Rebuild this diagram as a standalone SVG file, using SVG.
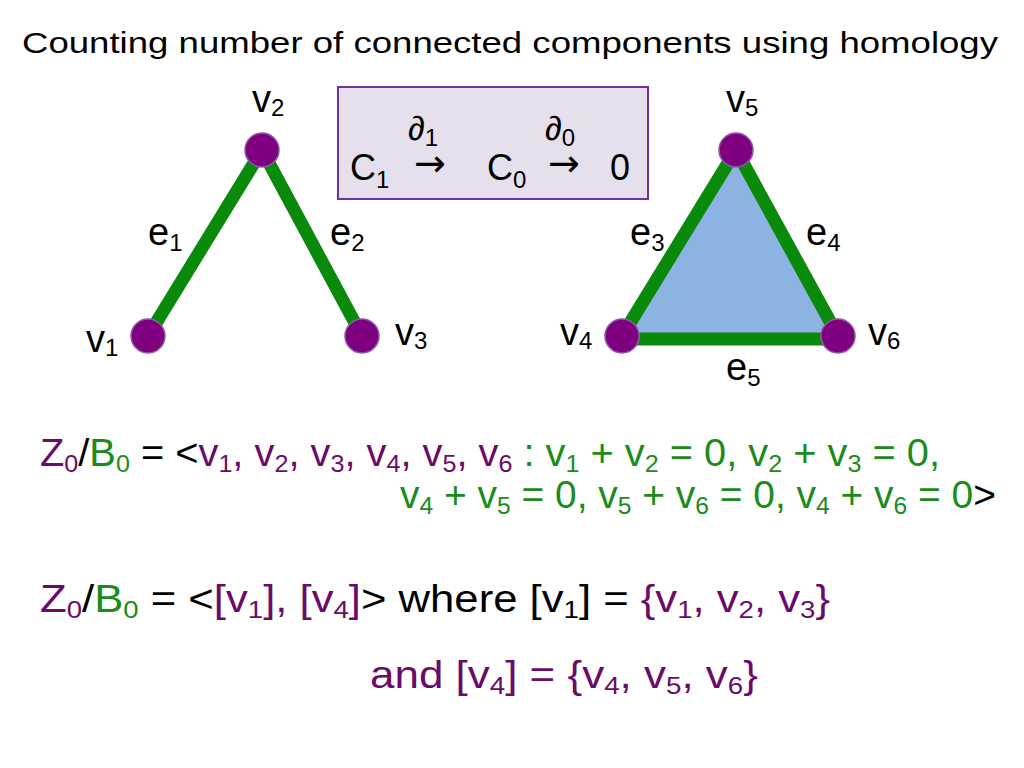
<svg xmlns="http://www.w3.org/2000/svg" width="1024" height="768" viewBox="0 0 1024 768">
<style>
text{font-family:"Liberation Sans",Arial,sans-serif;}
.p{fill:#6a0a6a}.g{fill:#1a8c1a}.k{fill:#000}
.node{fill:#7f007f;stroke:#8c5aa8;stroke-width:1.5}
.edge{stroke:#0a8a0a;stroke-width:13;stroke-linecap:round}
.lbl{font-size:38px;fill:#000}
.big{font-size:38px}
.arr{font-family:"DejaVu Sans",sans-serif;font-size:38px}
</style>
<rect width="1024" height="768" fill="#fff"/>
<text x="22" y="53" font-size="30" textLength="976" lengthAdjust="spacingAndGlyphs">Counting number of connected components using homology</text>
<g id="box" font-size="36">
<rect x="338" y="87" width="310" height="112" fill="#e6e0ec" stroke="#7030a0" stroke-width="2"/>
<text x="350" y="180">C<tspan font-size="24" dy="8">1</tspan></text>
<text class="arr" x="414" y="176">→</text>
<text x="487" y="180">C<tspan font-size="24" dy="8">0</tspan></text>
<text class="arr" x="548" y="176">→</text>
<text x="610" y="180">0</text>
<text x="408" y="140" font-size="34">∂<tspan font-size="24" dy="6">1</tspan></text>
<text x="545" y="140" font-size="34">∂<tspan font-size="24" dy="6">0</tspan></text>
</g>
<g id="triangle"><polygon points="736,150 622,336 838,336" fill="#8db3e2"/></g>
<g id="connectors">
<line class="edge" x1="262" y1="150" x2="148" y2="336"/>
<line class="edge" x1="262" y1="150" x2="362" y2="336"/>
<line class="edge" x1="736" y1="150" x2="622" y2="336"/>
<line class="edge" x1="736" y1="150" x2="838" y2="336"/>
<line class="edge" x1="622" y1="339" x2="838" y2="339"/>
</g>
<g id="v1"><circle class="node" cx="148" cy="336" r="17"/><text class="lbl" x="86" y="352">v<tspan font-size="24" dy="4">1</tspan></text></g>
<g id="v2"><circle class="node" cx="262" cy="150" r="17"/><text class="lbl" x="252" y="112">v<tspan font-size="24" dy="4">2</tspan></text></g>
<g id="v3"><circle class="node" cx="362" cy="336" r="17"/><text class="lbl" x="395" y="345">v<tspan font-size="24" dy="4">3</tspan></text></g>
<g id="v4"><circle class="node" cx="622" cy="336" r="17"/><text class="lbl" x="560" y="345">v<tspan font-size="24" dy="4">4</tspan></text></g>
<g id="v5"><circle class="node" cx="736" cy="150" r="17"/><text class="lbl" x="726" y="112">v<tspan font-size="24" dy="4">5</tspan></text></g>
<g id="v6"><circle class="node" cx="838" cy="336" r="17"/><text class="lbl" x="868" y="345">v<tspan font-size="24" dy="4">6</tspan></text></g>
<g id="elabels" font-size="38">
<text x="148" y="245">e<tspan font-size="24" dy="6">1</tspan></text>
<text x="330" y="245">e<tspan font-size="24" dy="6">2</tspan></text>
<text x="630" y="245">e<tspan font-size="24" dy="6">3</tspan></text>
<text x="806" y="245">e<tspan font-size="24" dy="6">4</tspan></text>
<text x="726" y="380">e<tspan font-size="24" dy="6">5</tspan></text>
</g>
<text class="big" x="40" y="466" textLength="900" lengthAdjust="spacingAndGlyphs"><tspan class="p">Z</tspan><tspan class="p" font-size="24" dy="6">0</tspan><tspan dy="-6">/</tspan><tspan class="g">B</tspan><tspan class="g" font-size="24" dy="6">0</tspan><tspan dy="-6"> = &lt;</tspan><tspan class="p">v</tspan><tspan class="p" font-size="24" dy="6">1</tspan><tspan class="p" dy="-6">, v</tspan><tspan class="p" font-size="24" dy="6">2</tspan><tspan class="p" dy="-6">, v</tspan><tspan class="p" font-size="24" dy="6">3</tspan><tspan class="p" dy="-6">, v</tspan><tspan class="p" font-size="24" dy="6">4</tspan><tspan class="p" dy="-6">, v</tspan><tspan class="p" font-size="24" dy="6">5</tspan><tspan class="p" dy="-6">, v</tspan><tspan class="p" font-size="24" dy="6">6</tspan><tspan class="g" dy="-6"> : v</tspan><tspan class="g" font-size="24" dy="6">1</tspan><tspan class="g" dy="-6"> + v</tspan><tspan class="g" font-size="24" dy="6">2</tspan><tspan class="g" dy="-6"> = 0, v</tspan><tspan class="g" font-size="24" dy="6">2</tspan><tspan class="g" dy="-6"> + v</tspan><tspan class="g" font-size="24" dy="6">3</tspan><tspan class="g" dy="-6"> = 0,</tspan></text>
<text class="big" x="400" y="508" textLength="596" lengthAdjust="spacingAndGlyphs"><tspan class="g">v</tspan><tspan class="g" font-size="24" dy="6">4</tspan><tspan class="g" dy="-6"> + v</tspan><tspan class="g" font-size="24" dy="6">5</tspan><tspan class="g" dy="-6"> = 0, v</tspan><tspan class="g" font-size="24" dy="6">5</tspan><tspan class="g" dy="-6"> + v</tspan><tspan class="g" font-size="24" dy="6">6</tspan><tspan class="g" dy="-6"> = 0, v</tspan><tspan class="g" font-size="24" dy="6">4</tspan><tspan class="g" dy="-6"> + v</tspan><tspan class="g" font-size="24" dy="6">6</tspan><tspan class="g" dy="-6"> = 0</tspan><tspan>&gt;</tspan></text>
<text class="big" x="40" y="612" textLength="790" lengthAdjust="spacingAndGlyphs"><tspan class="p">Z</tspan><tspan class="p" font-size="24" dy="6">0</tspan><tspan dy="-6">/</tspan><tspan class="g">B</tspan><tspan class="g" font-size="24" dy="6">0</tspan><tspan dy="-6"> = &lt;</tspan><tspan class="p">[v</tspan><tspan class="p" font-size="24" dy="6">1</tspan><tspan class="p" dy="-6">],  [v</tspan><tspan class="p" font-size="24" dy="6">4</tspan><tspan class="p" dy="-6">]</tspan><tspan>&gt; where [v</tspan><tspan font-size="24" dy="6">1</tspan><tspan dy="-6">]  =  </tspan><tspan class="p">{v</tspan><tspan class="p" font-size="24" dy="6">1</tspan><tspan class="p" dy="-6">, v</tspan><tspan class="p" font-size="24" dy="6">2</tspan><tspan class="p" dy="-6">, v</tspan><tspan class="p" font-size="24" dy="6">3</tspan><tspan class="p" dy="-6">}</tspan></text>
<text class="big p" x="370" y="688" textLength="388" lengthAdjust="spacingAndGlyphs">and [v<tspan font-size="24" dy="6">4</tspan><tspan dy="-6">]  =  {v</tspan><tspan font-size="24" dy="6">4</tspan><tspan dy="-6">, v</tspan><tspan font-size="24" dy="6">5</tspan><tspan dy="-6">, v</tspan><tspan font-size="24" dy="6">6</tspan><tspan dy="-6">}</tspan></text>
</svg>
